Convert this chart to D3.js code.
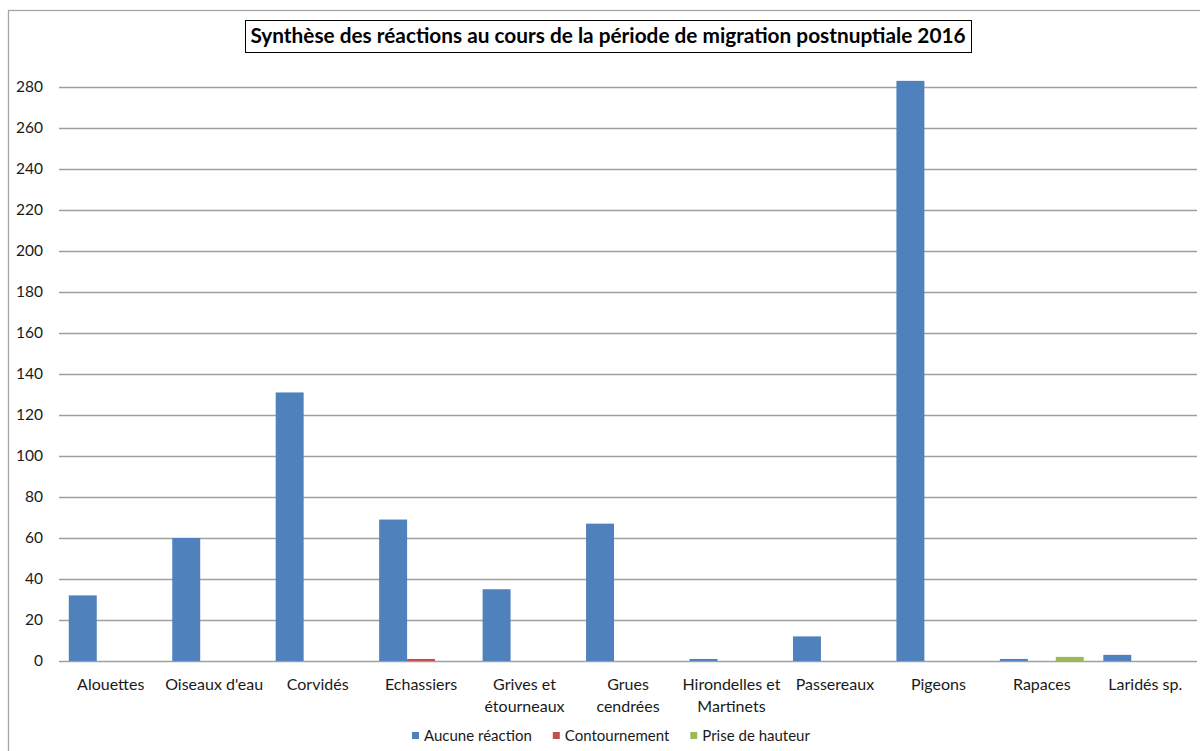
<!DOCTYPE html>
<html>
<head>
<meta charset="utf-8">
<script src="https://cdn.jsdelivr.net/npm/d3@7"></script>
<style>
	body { margin: 0; background: #ffffff; }
	svg { display: block; font-family: Lato, "Open Sans", sans-serif; }
</style>
</head>
<body>
<svg id="chart" width="1200" height="751"></svg>
<script>

var categories = ["Alouettes", "Oiseaux d'eau", "Corvidés", "Echassiers", "Grives et étourneaux", "Grues cendrées",
	"Hirondelles et Martinets", "Passereaux", "Pigeons", "Rapaces", "Laridés sp."];
var series = ["Aucune réaction", "Contournement", "Prise de hauteur"];
var aucuneReaction = [32, 60, 131, 69, 35, 67, 1, 12, 283, 1, 3];
var contournement = [0, 0, 0, 1, 0, 0, 0, 0, 0, 0, 0];
var priseDeHauteur = [0, 0, 0, 0, 0, 0, 0, 0, 0, 2, 0];
var yTicks = [0, 20, 40, 60, 80, 100, 120, 140, 160, 180, 200, 220, 240, 260, 280];
var colors = ["#4f81bd", "#c0504d", "#9bbb59"];
var title = "Synthèse des réactions au cours de la période de migration postnuptiale 2016";

function BarChart(svg) {

	var self = this;
	var _svg, _container, _gridLayer, _barLayer, _xLabels, _yAxis, _legend, _titleGroup,
		_margin = {top: 87, right: 3, bottom: 90, left: 59},
		_width = 1200 - 59 - 3,
		_height = 661 - 87,
		_x = d3.scaleBand(),
		_xSub = d3.scaleBand(),
		_y = d3.scaleLinear();

	self.render = function() {
		var rows = [];
		categories.forEach(function(c, i) {
			rows.push({cat: c, values: [aucuneReaction[i], contournement[i], priseDeHauteur[i]]});
		});

		_x.domain(categories).range([0, _width]).paddingInner(0).paddingOuter(0);
		_xSub.domain(series).range([0, _x.bandwidth()]).paddingInner(0).paddingOuter(0.35);
		_y.domain([0, 280]).range([_height, 0]);

		// chart border (left and top only visible)
		_svg.append("rect")
			.attr("x", 8.5).attr("y", 10.5)
			.attr("width", 1300).attr("height", 900)
			.style("fill", "none").style("stroke", "#a6a6a6").style("stroke-width", 1.3);

		_container.attr("transform", "translate(" + _margin.left + "," + _margin.top + ")");

		// gridlines
		_gridLayer.selectAll("line").data(yTicks).enter().append("line")
			.attr("x1", 0).attr("x2", _width)
			.attr("y1", function(d) { return Math.round(_y(d)) + 0.5; })
			.attr("y2", function(d) { return Math.round(_y(d)) + 0.5; })
			.style("stroke", "#a0a0a0").style("stroke-width", 1.4);

		_yAxis.call(d3.axisLeft(_y).tickValues(yTicks).tickSize(0).tickPadding(16));
		_yAxis.select(".domain").remove();
		_yAxis.selectAll(".tick text").style("font-size", "15.5px").style("fill", "#1a1a1a")
			.style("font-family", "Lato, 'Open Sans', sans-serif");

		var groups = _barLayer.selectAll(".bar").data(rows).enter().append("g")
			.attr("class", "bar")
			.attr("transform", function(d) { return "translate(" + _x(d.cat) + ",0)"; });

		// zero values give zero-height bars
		groups.selectAll("rect").data(function(d) { return d.values; }).enter().append("rect")
			.attr("x", function(d, i) { return _xSub(series[i]); })
			.attr("width", _xSub.bandwidth())
			.attr("y", function(d) { return _y(d); })
			.attr("height", function(d) { return _height - _y(d); })
			.style("fill", function(d, i) { return colors[i]; });

		// category labels
		var labels = _xLabels.selectAll("text").data(categories).enter().append("text")
			.attr("x", function(d) { return _x(d) + _x.bandwidth() / 2; })
			.attr("y", _height + 29)
			.attr("text-anchor", "middle")
			.style("font-size", "16px").style("fill", "#1a1a1a");
		labels.each(function(d) { wrap(d3.select(this), d, 100); });

		// title
		var tText = _titleGroup.append("text")
			.attr("x", 608).attr("y", 43)
			.attr("text-anchor", "middle")
			.style("font-size", "20px").style("font-weight", "bold").style("fill", "#000")
			.text(title);
		var tw = tText.node().getComputedTextLength();
		if (tw > 0) tText.style("font-size", (20 * 716 / tw) + "px");
		_titleGroup.insert("rect", "text")
			.attr("x", 245.5).attr("y", 20.5).attr("width", 726).attr("height", 32)
			.style("fill", "#fff").style("stroke", "#000").style("stroke-width", 1);

		// legend
		var pos = 412;
		series.forEach(function(s, i) {
			var item = _legend.append("g");
			item.append("rect").attr("x", pos).attr("y", 732).attr("width", 7).attr("height", 7)
				.style("fill", colors[i]);
			var t = item.append("text").attr("x", pos + 12).attr("y", 741)
				.style("font-size", "15px").style("fill", "#1a1a1a").text(s);
			pos = pos + 12 + t.node().getComputedTextLength() + 21;
		});
	}

	function wrap(text, str, maxWidth) {
		var words = str.split(" "), line = [], lines = [];
		var probe = text.append("tspan");
		words.forEach(function(w) {
			line.push(w);
			probe.text(line.join(" "));
			if (probe.node().getComputedTextLength() > maxWidth && line.length > 1) {
				line.pop();
				lines.push(line.join(" "));
				line = [w];
			}
		});
		lines.push(line.join(" "));
		probe.remove();
		lines.forEach(function(l, i) {
			text.append("tspan")
				.attr("x", text.attr("x"))
				.attr("dy", i === 0 ? 0 : 22)
				.text(l);
		});
	}

	function init(svg) {
		_svg = d3.select(svg);
		_container = _svg.append("g");
		_gridLayer = _container.append("g").attr("class", "grid");
		_barLayer = _container.append("g").attr("class", "bars");
		_yAxis = _container.append("g").attr("class", "y axis");
		_xLabels = _container.append("g").attr("class", "x labels");
		_titleGroup = _svg.append("g").attr("class", "title");
		_legend = _svg.append("g").attr("class", "legend");
	}

	init(svg);
}

var chart = new BarChart("#chart");
chart.render();
</script>
</body>
</html>
